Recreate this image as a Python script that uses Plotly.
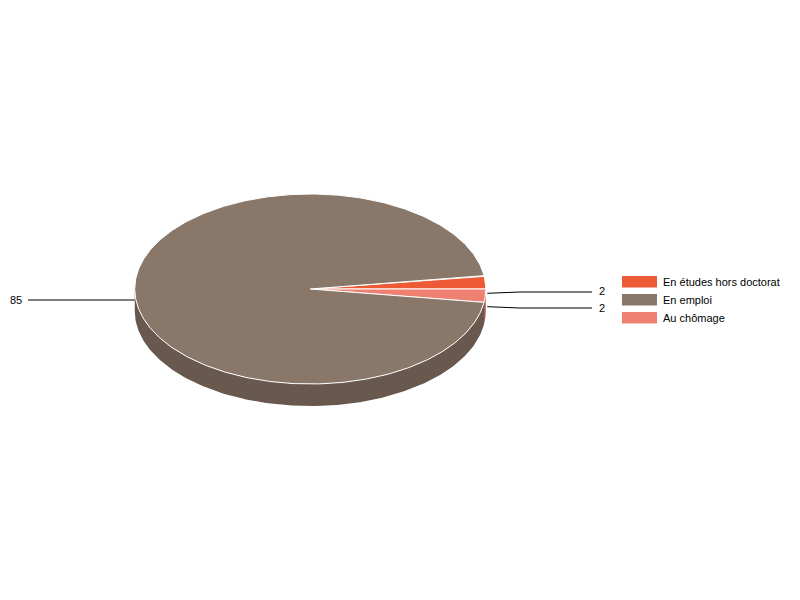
import numpy as np
import plotly.graph_objects as go

categories = ["En études hors doctorat", "En emploi", "Au chômage"]
values = [2, 85, 2]
labels = ["2", "85", "2"]
colors = ["#EC5B35", "#89786A", "#EF8172"]
side_colors = ["#A6402A", "#68584D", "#A85B50"]
# order the slices go round the pie, clockwise
slice_order = [0, 2, 1]

cx, cy = 310.25, 289
rx, ry = 175.5, 95
depth = 22

fig = go.Figure()

total = sum(values)
angle = 360 * values[0] / total  # orange slice starts just above 3 o'clock
arcs = []
for i in slice_order:
    sweep = 360 * values[i] / total
    arcs.append((i, angle, angle - sweep))
    angle -= sweep


def ex(t):
    return cx + rx * np.cos(np.radians(t))


def ey(t):
    return cy - ry * np.sin(np.radians(t))


# side wall, only the front half shows
for i, a0, a1 in arcs:
    t = np.linspace(a0, a1, 400)
    t = t[np.sin(np.radians(t)) <= 0]
    if len(t) == 0:
        continue
    xs = np.concatenate([ex(t), ex(t[::-1])])
    ys = np.concatenate([ey(t), ey(t[::-1]) + depth])
    fig.add_trace(go.Scatter(x=xs, y=ys, mode="lines", fill="toself", fillcolor=side_colors[i],
                             line=dict(width=0), hoverinfo="skip", showlegend=False))

# top face
for i, a0, a1 in arcs:
    t = np.linspace(a0, a1, 400)
    xs = np.concatenate([[cx], ex(t), [cx]])
    ys = np.concatenate([[cy], ey(t), [cy]])
    fig.add_trace(go.Scatter(x=xs, y=ys, mode="lines", fill="toself", fillcolor=colors[i],
                             line=dict(color="white", width=1), hoverinfo="skip",
                             name=categories[i], showlegend=False))

# leader lines and value labels
for i, a0, a1 in arcs:
    mid = (a0 + a1) / 2
    sx = ex(mid)
    sy = ey(mid) + depth / 2
    shift = 0
    if np.cos(np.radians(mid)) < 0:
        lx = [sx, 28]
        ly = [sy, sy]
        tx = 24
        anchor = "right"
    else:
        ly_end = 292 if mid > 0 else 308
        shift = 1 if mid > 0 else 0  # first label sits a pixel above its line
        lx = [sx + 2, 520, 592]
        ly = [sy, ly_end, ly_end]
        tx = 602
        anchor = "center"
    fig.add_trace(go.Scatter(x=lx, y=ly, mode="lines", line=dict(color="black", width=1),
                             hoverinfo="skip", showlegend=False))
    fig.add_annotation(x=tx, y=ly[-1], text=labels[i], showarrow=False, xanchor=anchor,
                       yanchor="middle", yshift=shift,
                       font=dict(family="Liberation Sans", size=11, color="black"))

# legend drawn by hand so swatches line up
for n, name in enumerate(categories):
    top = 276 + 18 * n
    fig.add_shape(type="rect", x0=622, x1=657, y0=top, y1=top + 11.5,
                  fillcolor=colors[n], line=dict(width=0))
    fig.add_annotation(x=663, y=top + 6, text=name, showarrow=False, xanchor="left",
                       yanchor="middle", xshift=-2, font=dict(family="Liberation Sans", size=11, color="black"))

fig.update_layout(
    width=800, height=600,
    margin=dict(l=0, r=0, t=0, b=0),
    paper_bgcolor="white", plot_bgcolor="white",
    xaxis=dict(range=[0, 800], visible=False, fixedrange=True),
    yaxis=dict(range=[600, 0], visible=False, fixedrange=True),
    showlegend=False,
)

fig.write_html("out.html", config=dict(displayModeBar=False),
               post_script="document.body.style.margin = '0';")
